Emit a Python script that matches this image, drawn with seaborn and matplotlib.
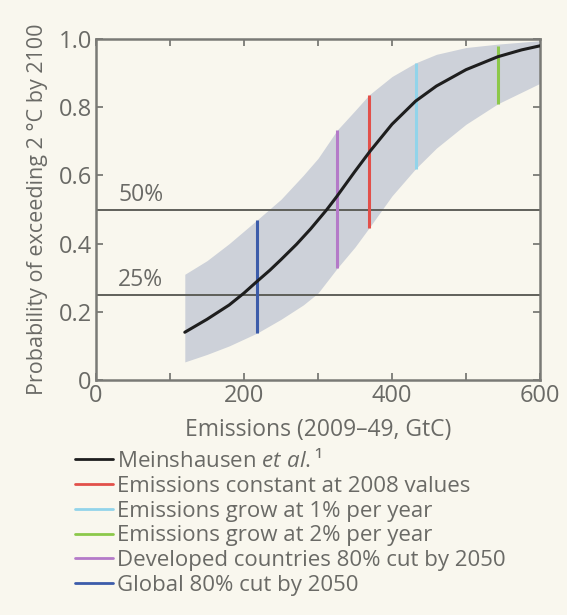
import matplotlib
matplotlib.use("Agg")
import matplotlib.pyplot as plt
from matplotlib.lines import Line2D
import seaborn as sns
import pandas as pd

# Central estimate: probability of exceeding 2 °C vs cumulative emissions
emissions = [120, 150, 180, 200, 217, 235, 250, 271, 290, 312, 325, 350,
             370, 400, 432, 460, 500, 543, 575, 600]
probability = [0.14, 0.178, 0.22, 0.255, 0.288, 0.322, 0.353, 0.398, 0.443,
               0.50, 0.537, 0.612, 0.67, 0.75, 0.818, 0.862, 0.91, 0.948,
               0.968, 0.98]

# Uncertainty band
band_x = [120, 150, 180, 218, 250, 280, 300, 326, 350, 369, 400, 432, 460,
          500, 543, 600]
band_upper = [0.31, 0.35, 0.40, 0.47, 0.53, 0.60, 0.65, 0.733, 0.79, 0.836,
              0.89, 0.93, 0.955, 0.975, 0.985, 0.995]
band_lower = [0.053, 0.075, 0.10, 0.138, 0.178, 0.22, 0.255, 0.328, 0.39,
              0.446, 0.54, 0.62, 0.68, 0.75, 0.81, 0.87]

# Emission scenarios: cumulative emissions and probability range
scenarios = ["Emissions constant at 2008 values",
             "Emissions grow at 1% per year",
             "Emissions grow at 2% per year",
             "Developed countries 80% cut by 2050",
             "Global 80% cut by 2050"]
scenario_emissions = [369, 432, 543, 326, 217]
scenario_low = [0.446, 0.62, 0.81, 0.328, 0.138]
scenario_high = [0.836, 0.93, 0.98, 0.733, 0.47]
scenario_colors = ["#e2504a", "#92d4ea", "#8cc84a", "#b47ac8", "#3c5caa"]

thresholds = [0.5, 0.25]
threshold_labels = ["50%", "25%"]

central_label = r"Meinshausen $\it{et\ al.}$¹"
curve_color = "#1e1e1e"
bg = "#f9f7ee"
grey_text = "#6a6a66"
spine_color = "#7a7a76"

sns.set_theme(style="white")
plt.rcParams["font.family"] = ["Open Sans", "DejaVu Sans"]
plt.rcParams["mathtext.fontset"] = "custom"
plt.rcParams["mathtext.it"] = "Open Sans:italic"
plt.rcParams["mathtext.rm"] = "Open Sans"

fig = plt.figure(figsize=(5.67, 6.15), dpi=100, facecolor=bg)
ax = fig.add_axes([96 / 567, 1 - 380 / 615, 444 / 567, 341 / 615])
ax.set_facecolor(bg)

ax.fill_between(band_x, band_lower, band_upper, color="#cdd1d9", lw=0, zorder=1)

for y, lab in zip(thresholds, threshold_labels):
    ax.axhline(y, color="#55554f", lw=1.3, zorder=2)
    ax.text(30, y + 0.008, lab, color=grey_text, fontsize=16.5, va="bottom",
            ha="left", zorder=5)

df = pd.DataFrame({"Emissions": emissions, "Probability": probability})
sns.lineplot(data=df, x="Emissions", y="Probability", color=curve_color,
             lw=2.2, ax=ax, zorder=4)

for x, lo, hi, c in zip(scenario_emissions, scenario_low, scenario_high,
                        scenario_colors):
    ax.vlines(x, lo, hi, color=c, lw=2.2, zorder=3)

ax.set_xlim(0, 600)
ax.set_ylim(0, 1.0)
ax.set_xticks([0, 100, 200, 300, 400, 500, 600])
ax.set_xticklabels(["0", "", "200", "", "400", "", "600"])
ax.set_yticks([0, 0.2, 0.4, 0.6, 0.8, 1.0])
ax.set_yticklabels(["0", "0.2", "0.4", "0.6", "0.8", "1.0"])
ax.tick_params(direction="in", length=5, width=1.3, color=spine_color,
               labelsize=17, labelcolor=grey_text, top=True, right=True,
               bottom=True, left=True, pad=3)
for s in ax.spines.values():
    s.set_color(spine_color)
    s.set_linewidth(1.8)
    s.set_visible(True)

ax.set_xlabel("Emissions (2009–49, GtC)", fontsize=16.5, color=grey_text)
ax.set_ylabel("Probability of exceeding 2 °C by 2100", fontsize=15.5,
              color=grey_text)
ax.xaxis.set_label_coords(0.5, -0.112)
ax.yaxis.set_label_coords(-0.108, 0.5)

handles = [Line2D([], [], color=curve_color, lw=2)]
labels = [central_label]
for c, name in zip(scenario_colors, scenarios):
    handles.append(Line2D([], [], color=c, lw=2))
    labels.append(name)

leg = fig.legend(handles, labels, loc="upper left",
                 bbox_to_anchor=(75 / 567, 1 - 449 / 615), frameon=False,
                 fontsize=16, handlelength=1.7, handletextpad=0.2,
                 labelspacing=0.17, borderaxespad=0, borderpad=0)
for t in leg.get_texts():
    t.set_color(grey_text)

fig.savefig("out.png", dpi=100, facecolor=bg)
